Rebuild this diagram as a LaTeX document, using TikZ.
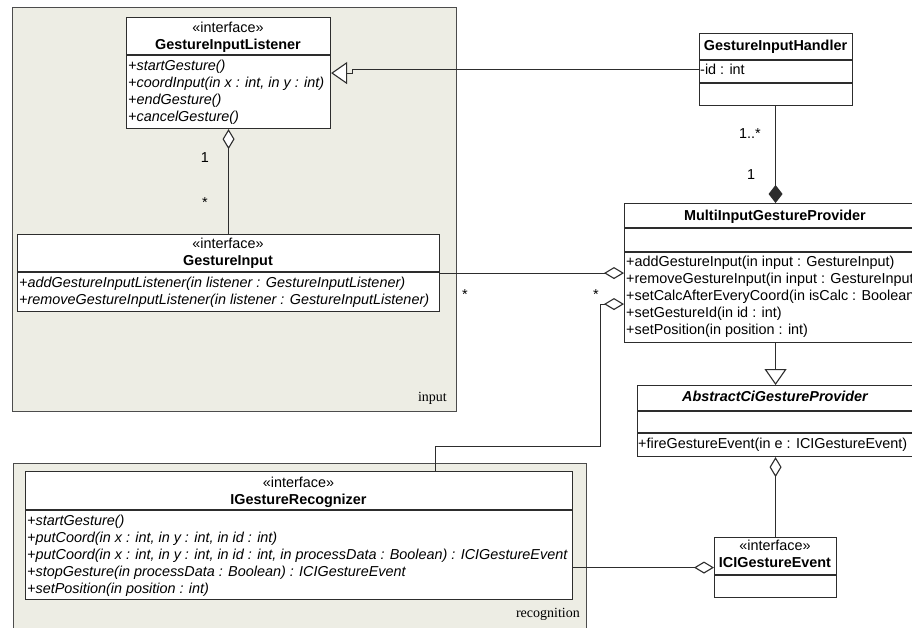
\documentclass[tikz,border=0pt]{standalone}
\usepackage{fontspec}
\setmainfont{Liberation Sans}
\newfontfamily\pkserif{Liberation Serif}
\usetikzlibrary{arrows.meta,calc}
\definecolor{pkfill}{RGB}{237,237,228}
\definecolor{ln}{RGB}{45,45,45}
\newcommand\umlfs{\fontsize{14.4}{17}\selectfont}
\begin{document}
\begin{tikzpicture}[x=1pt,y=-1pt,
  umlbox/.style={draw=ln, fill=white, line width=1.1pt, inner sep=0pt, anchor=north west},
  pkg/.style={draw=ln!85, fill=pkfill, line width=1.1pt, inner sep=0pt, anchor=north west},
  divider/.style={draw=ln, line width=1.1pt},
  mtxt/.style={inner sep=0pt, anchor=base west, font=\umlfs},
  itxt/.style={inner sep=0pt, anchor=base west, font=\umlfs\itshape},
  ctxt/.style={inner sep=0pt, anchor=base, font=\umlfs},
  btxt/.style={inner sep=0pt, anchor=base, font=\umlfs\bfseries},
  pktxt/.style={inner sep=0pt, anchor=base east, font=\pkserif\fontsize{14}{16}\selectfont},
  mult/.style={inner sep=0pt, anchor=base, font=\umlfs},
  conn/.style={draw=ln, line width=1.1pt},
  aggS/.style={conn, {Diamond[length=20pt,width=12pt,fill=white,line width=1.1pt]}-},
  compS/.style={conn, {Diamond[length=18pt,width=14pt,fill=ln,line width=1.1pt]}-},
  genE/.style={conn, -{Triangle[length=16pt,width=22pt,fill=white,line width=1.1pt]}}
]
\useasboundingbox (0,0) rectangle (912,627);
\clip (0,0) rectangle (912,627);
\fill[white] (0,0) rectangle (912,627);

% packages
\node[pkg, minimum width=444pt, minimum height=404pt] (pkin) at (12,7) {};
\node[pktxt] (pkinl) at (447,401) {input};
\node[pkg, minimum width=573pt, minimum height=175pt] (pkrec) at (13,463) {};
\node[pktxt] (pkrecl) at (580,617) {recognition};

% GestureInputListener
\node[umlbox, minimum width=204pt, minimum height=111pt] (gil) at (126,17) {};
\draw[divider] (126,55) -- (330,55);
\node[ctxt] (gils) at (228,32) {«interface»};
\node[btxt] (gilt) at (228,49) {GestureInputListener};
\node[itxt] (gil1) at (128,70) {+startGesture()};
\node[itxt] (gil2) at (128,87) {+coordInput(in x : int, in y : int)};
\node[itxt] (gil3) at (128,104) {+endGesture()};
\node[itxt] (gil4) at (128,121) {+cancelGesture()};

% GestureInput
\node[umlbox, minimum width=422pt, minimum height=77pt] (gi) at (17,234) {};
\draw[divider] (17,272) -- (439,272);
\node[ctxt] (gis) at (228,248) {«interface»};
\node[btxt] (git) at (228,265) {GestureInput};
\node[itxt] (gi1) at (19,287) {+addGestureInputListener(in listener : GestureInputListener)};
\node[itxt] (gi2) at (19,304) {+removeGestureInputListener(in listener : GestureInputListener)};

% GestureInputHandler
\node[umlbox, minimum width=153pt, minimum height=72pt] (gih) at (699,33) {};
\draw[divider] (699,60) -- (852,60);
\draw[divider] (699,83) -- (852,83);
\node[btxt] (giht) at (775.5,50) {GestureInputHandler};
\node[mtxt] (gih1) at (700,74) {-id : int};

% MultiInputGestureProvider
\node[umlbox, minimum width=302pt, minimum height=139pt] (migp) at (624,203) {};
\draw[divider] (624,228) -- (926,228);
\draw[divider] (624,252) -- (926,252);
\node[btxt] (migpt) at (775,220) {MultiInputGestureProvider};
\node[mtxt] (migp1) at (626,266) {+addGestureInput(in input : GestureInput)};
\node[mtxt] (migp2) at (626,283) {+removeGestureInput(in input : GestureInput)};
\node[mtxt] (migp3) at (626,300) {+setCalcAfterEveryCoord(in isCalc : Boolean)};
\node[mtxt] (migp4) at (626,317) {+setGestureId(in id : int)};
\node[mtxt] (migp5) at (626,334) {+setPosition(in position : int)};

% AbstractCiGestureProvider
\node[umlbox, minimum width=276pt, minimum height=71pt] (acgp) at (637,385) {};
\draw[divider] (637,411) -- (913,411);
\draw[divider] (637,433) -- (913,433);
\node[btxt, font=\umlfs\bfseries\itshape] (acgpt) at (775,401) {AbstractCiGestureProvider};
\node[mtxt] (acgp1) at (638,448) {+fireGestureEvent(in e : ICIGestureEvent)};

% ICIGestureEvent
\node[umlbox, minimum width=122pt, minimum height=60pt] (ici) at (714,537) {};
\draw[divider] (714,575) -- (836,575);
\node[ctxt] (icis) at (775,550) {«interface»};
\node[btxt] (icit) at (775,567) {ICIGestureEvent};

% IGestureRecognizer
\node[umlbox, minimum width=547pt, minimum height=128pt] (igr) at (25,471) {};
\draw[divider] (25,510) -- (572,510);
\node[ctxt] (igrs) at (298.5,487) {«interface»};
\node[btxt] (igrt) at (298.5,504) {IGestureRecognizer};
\node[itxt] (igr1) at (27,525) {+startGesture()};
\node[itxt] (igr2) at (27,542) {+putCoord(in x : int, in y : int, in id : int)};
\node[itxt] (igr3) at (27,559) {+putCoord(in x : int, in y : int, in id : int, in processData : Boolean) : ICIGestureEvent};
\node[itxt] (igr4) at (27,576) {+stopGesture(in processData : Boolean) : ICIGestureEvent};
\node[itxt] (igr5) at (27,593) {+setPosition(in position : int)};

% connectors
\coordinate (jx) at (352.5,0);
\draw[genE] (gih.west) -- (gih.west -| jx) -- (gil.east -| jx) -- (gil.east);

\draw[aggS] (gil.south) -- (gi.north);
\node[mult] (m1) at (205,162) {1};
\node[mult] (m2) at (205,207) {*};

\draw[compS] (migp.north) -- (migp.north |- gih.south);
\node[mult] (m3) at (750,138) {1..*};
\node[mult] (m4) at (751,179) {1};

\draw[aggS] (migp.west) -- (migp.west -| gi.east);
\node[mult] (m5) at (465,299) {*};
\node[mult] (m6) at (596,299) {*};

\coordinate (ma2) at ($(migp.west)+(0,31)$);
\coordinate (b1) at (600.5,446.5);
\coordinate (b2) at (435.5,446.5);
\coordinate (b0) at (ma2 -| b1);
\draw[aggS] (ma2) -- (b0);
\draw[conn, line join=miter] (b0) -- (b1) -- (b2) -- (b2 |- igr.north);

\draw[genE] (migp.south) -- (acgp.north);
\draw[aggS] (acgp.south) -- (ici.north);
\draw[aggS] (ici.west) -- (ici.west -| igr.east);
\end{tikzpicture}
\end{document}
